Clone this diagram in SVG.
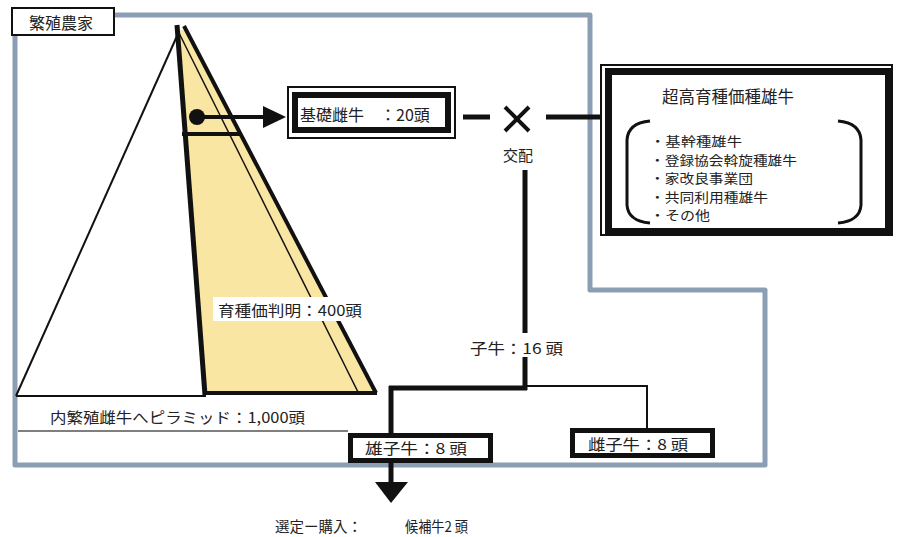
<svg xmlns="http://www.w3.org/2000/svg" width="897" height="537" viewBox="0 0 897 537">
<style>
.t{font-family:"Noto Sans CJK JP","Noto Sans",sans-serif;fill:#222}
.li{font-size:12.8px}
.frame{fill:none;stroke:#8b9eb3;stroke-width:5;stroke-linejoin:round}
.k{stroke:#111;fill:none}
.box{fill:#fff;stroke:#111}
</style>
<rect width="897" height="537" fill="#fff"/>
<g id="farm-frame">
<path class="frame" d="M15,15 H590 V290 H765 V465 H15 Z"/>
</g>
<g id="pyramid">
<line class="k" x1="16" y1="396" x2="177" y2="36" stroke-width="2"/>
<line class="k" x1="16" y1="396" x2="206" y2="396" stroke-width="2"/>
<polygon points="178,30 185,30 374,392 205,394" fill="#fae6a3"/>
<line class="k" x1="179" y1="33" x2="358" y2="392" stroke-width="1.5" stroke="#555"/>
<line class="k" x1="184" y1="26" x2="376" y2="393" stroke-width="4"/>
<line class="k" x1="177" y1="25" x2="205" y2="395" stroke-width="5"/>
<line class="k" x1="203" y1="393" x2="377" y2="393" stroke-width="4"/>
<line class="k" x1="182" y1="134" x2="240" y2="134" stroke-width="4"/>
<rect x="213" y="297" width="150" height="24" fill="#fff"/>
<text class="t" x="218" y="316" font-size="15" textLength="144" lengthAdjust="spacingAndGlyphs">育種価判明：400頭</text>
<line x1="18" y1="431" x2="348" y2="431" stroke="#555" stroke-width="1.5"/>
<text class="t" x="50" y="423" font-size="15" textLength="255" lengthAdjust="spacingAndGlyphs">内繁殖雌牛へピラミッド：1,000頭</text>
</g>
<g id="label-farm">
<rect class="box" x="12" y="8" width="102" height="27" stroke-width="2"/>
<text class="t" x="29" y="29" font-size="16">繁殖農家</text>
</g>
<g id="connectors">
<circle cx="197" cy="117" r="8" fill="#111"/>
<line class="k" x1="197" y1="117" x2="266" y2="117" stroke-width="4"/>
<polygon points="263,106 286,117 263,128" fill="#111"/>
<line class="k" x1="463" y1="117" x2="490" y2="117" stroke-width="5"/>
<line class="k" x1="505" y1="107" x2="529" y2="131" stroke-width="4"/>
<line class="k" x1="529" y1="107" x2="505" y2="131" stroke-width="4"/>
<line class="k" x1="546" y1="117" x2="602" y2="117" stroke-width="5"/>
<line class="k" x1="525" y1="170" x2="525" y2="333" stroke-width="5"/>
<line class="k" x1="525" y1="357" x2="525" y2="390" stroke-width="5"/>
<line class="k" x1="389" y1="388" x2="527" y2="388" stroke-width="5"/>
<line class="k" x1="525" y1="386" x2="647" y2="386" stroke-width="2"/>
<line class="k" x1="647" y1="385" x2="647" y2="431" stroke-width="2"/>
<line class="k" x1="391" y1="386" x2="391" y2="434" stroke-width="5"/>
<line class="k" x1="391" y1="462" x2="391" y2="484" stroke-width="5"/>
<polygon points="375,482 408,482 391,503" fill="#111"/>
<text class="t" x="518" y="161" font-size="15" text-anchor="middle">交配</text>
<text class="t" x="470" y="354" font-size="15" textLength="93" lengthAdjust="spacingAndGlyphs">子牛：16 頭</text>
</g>
<g id="node-foundation-cows">
<rect class="box" x="288" y="87" width="167" height="51" stroke-width="2"/>
<rect class="box" x="295" y="95" width="153" height="35" stroke-width="6"/>
<text class="t" x="300" y="121" font-size="16">基礎雌牛　：20頭</text>
</g>
<g id="node-bulls">
<rect class="box" x="601" y="65" width="291" height="170" stroke-width="2"/>
<rect class="box" x="608.5" y="71.5" width="280" height="160" stroke-width="7"/>
<text class="t" x="662" y="103" font-size="16.5">超高育種価種雄牛</text>
<path class="k" stroke-width="3" d="M650,121 Q628,123 627,140 V205 Q628,221 650,223"/>
<path class="k" stroke-width="3" d="M838,121 Q860,123 861,140 V205 Q860,221 838,223"/>
<text class="t li" x="650" y="146" textLength="92" lengthAdjust="spacingAndGlyphs">・基幹種雄牛</text>
<text class="t li" x="650" y="164.6" textLength="147" lengthAdjust="spacingAndGlyphs">・登録協会斡旋種雄牛</text>
<text class="t li" x="650" y="183.2" textLength="103" lengthAdjust="spacingAndGlyphs">・家改良事業団</text>
<text class="t li" x="650" y="201.8" textLength="118" lengthAdjust="spacingAndGlyphs">・共同利用種雄牛</text>
<text class="t li" x="650" y="220.4" textLength="60" lengthAdjust="spacingAndGlyphs">・その他</text>
</g>
<g id="node-male-calves">
<rect class="box" x="350.5" y="435.5" width="140" height="25" stroke-width="5"/>
<text class="t" x="365" y="454" font-size="15" textLength="102" lengthAdjust="spacingAndGlyphs">雄子牛：8 頭</text>
</g>
<g id="node-female-calves">
<rect class="box" x="572.5" y="430.5" width="140" height="25" stroke-width="5"/>
<text class="t" x="588" y="450" font-size="15" textLength="100" lengthAdjust="spacingAndGlyphs">雌子牛：8 頭</text>
</g>
<g id="result">
<text class="t" x="275" y="532" font-size="14.5">選定ー購入：</text>
<text class="t" x="405" y="532" font-size="14.5" textLength="63" lengthAdjust="spacingAndGlyphs">候補牛2 頭</text>
</g>
</svg>
